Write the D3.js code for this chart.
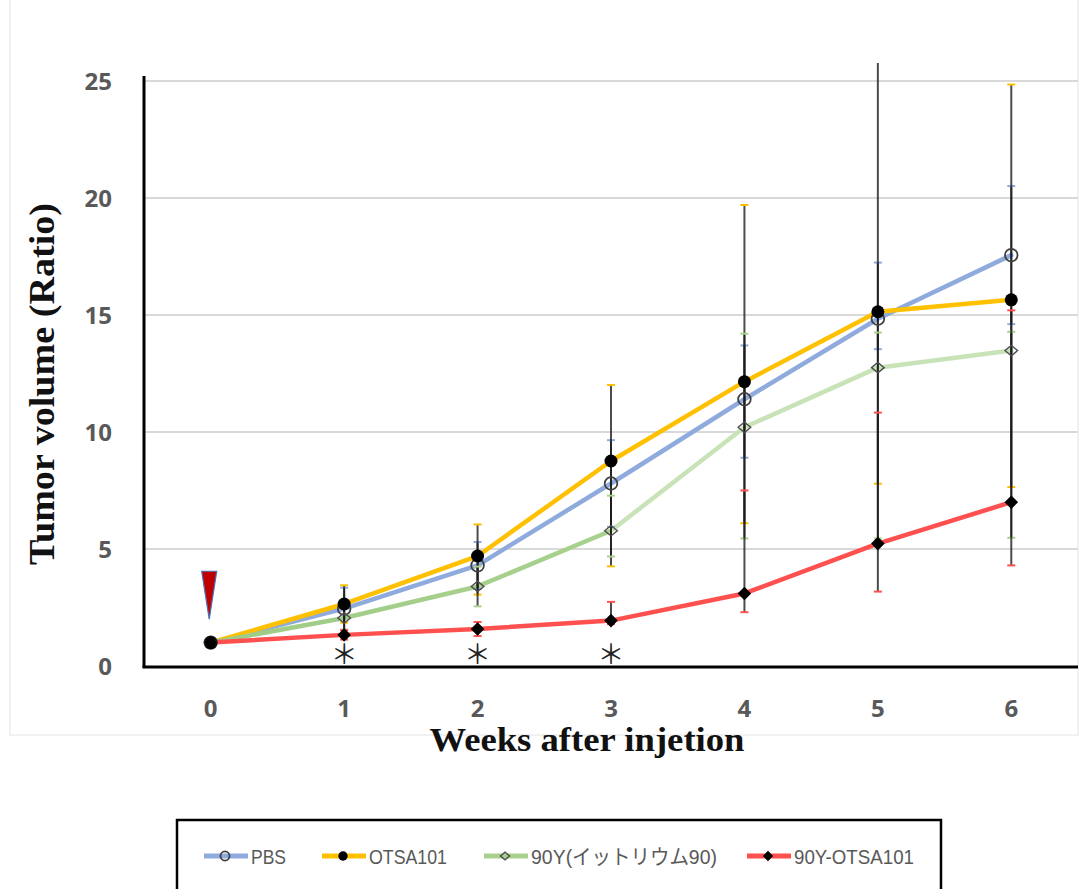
<!DOCTYPE html>
<html>
<head>
<meta charset="utf-8">
<script src="https://cdn.jsdelivr.net/npm/d3@7"></script>
<style>
  body { margin: 0; background: #fff; }
  svg { display: block; }
  .grid { stroke: #d9d9d9; stroke-width: 2; }
  .tick-label { font-family: "Open Sans", "DejaVu Sans", sans-serif; font-weight: 700; font-size: 24px; fill: #595959; }
  .axis-title { font-family: "Liberation Serif", "DejaVu Serif", serif; font-weight: 700; fill: #111; }
  .legend-text { font-family: "Liberation Sans", "Noto Sans CJK JP", sans-serif; font-size: 21px; fill: #595959; }
</style>
</head>
<body>
<svg id="chart"></svg>
<script>
// weeks after injection
const weeks = [0, 1, 2, 3, 4, 5, 6];
const yTicks = [0, 5, 10, 15, 20, 25];
const starWeeks = [1, 2, 3];

const pbs      = [1.0, 2.45, 4.3, 7.8, 11.4, 14.84, 17.56];
const pbsUp    = [0, 0.9, 1.0, 1.85, 2.3, 2.4, 2.95];
const pbsDown  = [0, 0.9, 1.0, 1.85, 2.5, 1.3, 2.95];

const otsa     = [1.0, 2.65, 4.7, 8.76, 12.15, 15.14, 15.65];
const otsaUp   = [0, 0.8, 1.35, 3.25, 7.55, 11.5, 9.2];
const otsaDown = [0, 0.8, 1.65, 4.5, 6.05, 7.35, 8.0];

const y90      = [1.0, 2.05, 3.4, 5.78, 10.2, 12.75, 13.48];
const y90Up    = [0, 0.5, 0.85, 1.5, 4.0, 1.5, 0.8];
const y90Down  = [0, 0.5, 0.85, 1.1, 4.75, 7.3, 8.0];

const combo     = [1.0, 1.33, 1.58, 1.94, 3.1, 5.23, 7.0];
const comboUp   = [0, 0.2, 0.3, 0.8, 4.4, 5.6, 8.2];
const comboDown = [0, 0.2, 0.3, 0.15, 0.8, 2.05, 2.7];

const seriesNames = ['PBS', 'OTSA101', '90Y(イットリウム90)', '90Y-OTSA101'];

const series = [
  { name: seriesNames[0], vals: pbs,   up: pbsUp,   down: pbsDown,   color: '#8faadc', marker: 'openCircle' },
  { name: seriesNames[1], vals: otsa,  up: otsaUp,  down: otsaDown,  color: '#ffc000', marker: 'dot' },
  { name: seriesNames[2], vals: y90,   up: y90Up,   down: y90Down,   color: 'url(#greenGrad)', capColor: '#a9d18e', marker: 'openDiamond' },
  { name: seriesNames[3], vals: combo, up: comboUp, down: comboDown, color: '#ff5050', marker: 'diamond' }
];

const W = 1092, H = 889;
const svg = d3.select('#chart').attr('width', W).attr('height', H);

// faint outer frame of the chart area
svg.append('rect').attr('x', 10).attr('y', -2).attr('width', 1068).attr('height', 737)
  .attr('fill', 'none').attr('stroke', '#ededed').attr('stroke-width', 1.5);

const x = d3.scalePoint().domain(weeks).range([144, 1078]).padding(0.5);
const y = d3.scaleLinear().domain([0, 25]).range([666, 81]);

const defs = svg.append('defs');
// error bars get cut at the top of the plot area
defs.append('clipPath').attr('id', 'plotClip')
  .append('rect').attr('x', 0).attr('y', 63).attr('width', W).attr('height', 700);

// green line fades lighter after week 3
const grad = defs.append('linearGradient').attr('id', 'greenGrad')
  .attr('gradientUnits', 'userSpaceOnUse')
  .attr('x1', x(0)).attr('x2', x(6)).attr('y1', 0).attr('y2', 0);
const split = (x(3) - x(0)) / (x(6) - x(0));
grad.append('stop').attr('offset', 0).attr('stop-color', '#9fcc86');
grad.append('stop').attr('offset', split).attr('stop-color', '#a9d18e');
grad.append('stop').attr('offset', split).attr('stop-color', '#c9e3b9');
grad.append('stop').attr('offset', 1).attr('stop-color', '#c9e3b9');

// gridlines
svg.append('g').selectAll('line').data(yTicks.filter(t => t > 0)).join('line')
  .attr('class', 'grid')
  .attr('x1', 144).attr('x2', 1078)
  .attr('y1', d => y(d)).attr('y2', d => y(d));

// axes lines
svg.append('line').attr('x1', 144).attr('x2', 144).attr('y1', 76).attr('y2', y(0) + 1.5)
  .attr('stroke', '#000').attr('stroke-width', 3);
svg.append('line').attr('x1', 142.5).attr('x2', 1078).attr('y1', y(0) + 1).attr('y2', y(0) + 1)
  .attr('stroke', '#000').attr('stroke-width', 3);

// tick labels
svg.append('g').selectAll('text').data(yTicks).join('text')
  .attr('class', 'tick-label')
  .attr('x', 112).attr('y', d => y(d)).attr('dy', '0.36em')
  .attr('text-anchor', 'end').text(d => d);
svg.append('g').selectAll('text').data(weeks).join('text')
  .attr('class', 'tick-label')
  .attr('x', d => x(d)).attr('y', 717)
  .attr('text-anchor', 'middle').text(d => d);

// axis titles
svg.append('text').attr('class', 'axis-title')
  .attr('x', 587).attr('y', 751).attr('text-anchor', 'middle')
  .attr('font-size', 34).attr('textLength', 315).attr('lengthAdjust', 'spacingAndGlyphs')
  .text('Weeks after injetion');
svg.append('text').attr('class', 'axis-title')
  .attr('transform', 'translate(54,384) rotate(-90)')
  .attr('text-anchor', 'middle')
  .attr('font-size', 35).attr('textLength', 362).attr('lengthAdjust', 'spacingAndGlyphs')
  .text('Tumor volume (Ratio)');

// lines
const line = d3.line().x((d, i) => x(weeks[i])).y(d => y(d));
series.forEach(s => {
  svg.append('path').attr('d', line(s.vals))
    .attr('fill', 'none').attr('stroke', s.color).attr('stroke-width', 4.5)
    .attr('stroke-linejoin', 'round').attr('stroke-linecap', 'round');
});

// error bars
series.forEach(s => {
  const g = svg.append('g').attr('clip-path', 'url(#plotClip)');
  weeks.forEach((w, i) => {
    if (!s.up[i] && !s.down[i]) return;
    const hi = y(s.vals[i] + s.up[i]), lo = y(s.vals[i] - s.down[i]);
    g.append('line').attr('x1', x(w)).attr('x2', x(w)).attr('y1', hi).attr('y2', lo)
      .attr('stroke', '#1a1a1a').attr('stroke-opacity', 0.78).attr('stroke-width', 2);
    [hi, lo].forEach(cy => g.append('line')
      .attr('x1', x(w) - 4).attr('x2', x(w) + 4).attr('y1', cy).attr('y2', cy)
      .attr('stroke', s.capColor || s.color).attr('stroke-width', 2));
  });
});

// markers
function drawMarker(g, type, cx, cy, sc) {
  if (type === 'openCircle')
    g.append('circle').attr('cx', cx).attr('cy', cy).attr('r', 6.3 * sc)
      .attr('fill', 'none').attr('stroke', '#404040').attr('stroke-width', 1.8);
  else if (type === 'dot')
    g.append('circle').attr('cx', cx).attr('cy', cy).attr('r', 6.5 * sc).attr('fill', '#000');
  else {
    const rx = (type === 'openDiamond' ? 6.3 : 5.8) * sc, ry = (type === 'openDiamond' ? 5.2 : 5.8) * sc;
    g.append('path')
      .attr('d', `M${cx - rx},${cy}L${cx},${cy - ry}L${cx + rx},${cy}L${cx},${cy + ry}Z`)
      .attr('fill', type === 'diamond' ? '#000' : 'none')
      .attr('stroke', type === 'diamond' ? '#000' : '#4d4d4d').attr('stroke-width', 1.4);
  }
}
series.forEach(s => {
  const g = svg.append('g');
  s.vals.forEach((v, i) => drawMarker(g, s.marker, x(weeks[i]), y(v), 1));
});

// injection arrowhead at week 0
svg.append('path')
  .attr('d', `M${x(0) - 9},${y(4.05)}L${x(0) + 6},${y(4.05)}L${x(0) - 1.5},${y(2.0)}Z`)
  .attr('fill', '#c00000').attr('stroke', '#4a6fb5').attr('stroke-width', 1.2);

// significance marks
svg.append('g').selectAll('text').data(starWeeks).join('text')
  .attr('x', d => x(d)).attr('y', 652)
  .attr('text-anchor', 'middle').attr('dominant-baseline', 'central')
  .attr('font-family', '"Noto Sans CJK JP", sans-serif').attr('font-size', 27)
  .attr('fill', '#222').text('＊');

// legend
svg.append('rect').attr('x', 177).attr('y', 820).attr('width', 764).attr('height', 100)
  .attr('fill', '#fff').attr('stroke', '#000').attr('stroke-width', 2.5);
const legendX = [204, 322, 484, 747];
const legendW = [35, 78, 186, 120];
const legendStroke = ['#8faadc', '#ffc000', '#a9d18e', '#ff5050'];
series.forEach((s, i) => {
  const g = svg.append('g');
  const lx = legendX[i], ly = 856;
  g.append('line').attr('x1', lx).attr('x2', lx + 44).attr('y1', ly).attr('y2', ly)
    .attr('stroke', legendStroke[i]).attr('stroke-width', 5);
  drawMarker(g, s.marker, lx + 21, ly, 0.72);
  g.append('text').attr('class', 'legend-text')
    .attr('x', lx + 47).attr('y', ly + 8)
    .attr('textLength', legendW[i]).attr('lengthAdjust', 'spacingAndGlyphs')
    .text(s.name);
});
</script>
</body>
</html>
